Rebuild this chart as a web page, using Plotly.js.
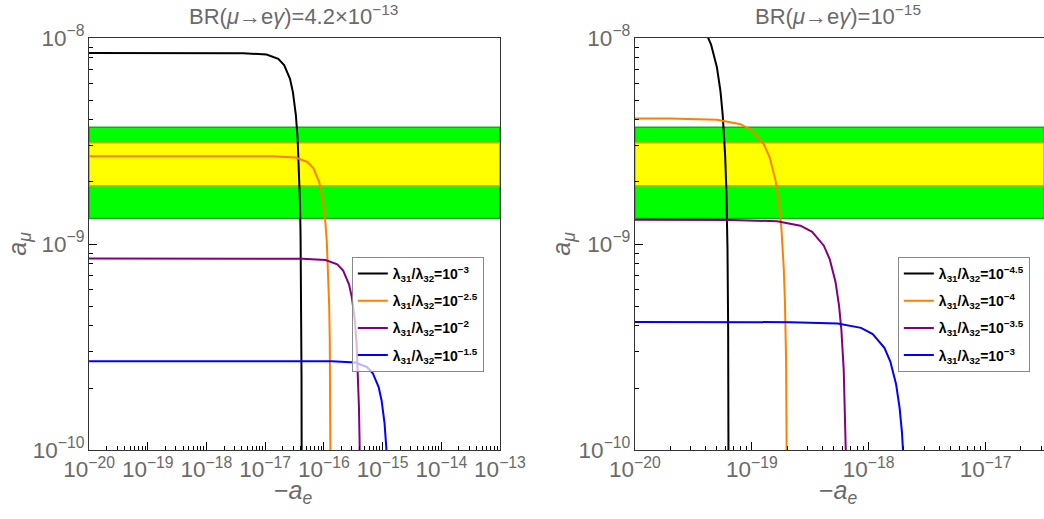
<!DOCTYPE html>
<html>
<head>
<meta charset="utf-8">
<script src="https://cdn.plot.ly/plotly-3.0.1.min.js"></script>
<style>html,body{margin:0;padding:0;background:#fff;}#plot{width:1044px;height:519px;}</style>
</head>
<body>
<div id="plot"></div>
<script>
// ---- Data ----
// g-2 bands (a_mu): 2-sigma (green) and 1-sigma (yellow)
const band2sigma = [1.33e-9, 3.69e-9];
const band1sigma = [1.92e-9, 3.10e-9];

// Left panel: BR(mu->e gamma) = 4.2e-13
const leftNames = ["λ<sub>31</sub>/λ<sub>32</sub>=10<sup>−3</sup>",
                   "λ<sub>31</sub>/λ<sub>32</sub>=10<sup>−2.5</sup>",
                   "λ<sub>31</sub>/λ<sub>32</sub>=10<sup>−2</sup>",
                   "λ<sub>31</sub>/λ<sub>32</sub>=10<sup>−1.5</sup>"];
const leftBlackX  = [1e-20, 4.2e-18, 1.055e-17, 1.672e-17, 2.105e-17, 2.65e-17, 2.973e-17, 3.336e-17, 3.575e-17, 3.743e-17, 3.92e-17, 4.011e-17, 4.104e-17, 4.161e-17, 4.2e-17];
const leftBlackY  = [8.45e-9, 8.44e-9, 8.31e-9, 7.92e-9, 7.39e-9, 6.33e-9, 5.45e-9, 4.22e-9, 3.24e-9, 2.47e-9, 1.58e-9, 1.09e-9, 5.66e-10, 2.31e-10, 5e-11];
const leftOrangeX = [1e-20, 1.32e-17, 3.316e-17, 5.255e-17, 6.616e-17, 8.329e-17, 9.344e-17, 1.0485e-16, 1.1235e-16, 1.1765e-16, 1.232e-16, 1.2606e-16, 1.2899e-16, 1.3079e-16, 1.32e-16];
const leftOrangeY = [2.67e-9, 2.667e-9, 2.627e-9, 2.502e-9, 2.334e-9, 2.0e-9, 1.722e-9, 1.332e-9, 1.023e-9, 7.8e-10, 4.99e-10, 3.44e-10, 1.79e-10, 7.29e-11, 3e-11];
const leftPurpleX = [1e-20, 4.25e-17, 1.0676e-16, 1.692e-16, 2.13e-16, 2.682e-16, 3.009e-16, 3.376e-16, 3.617e-16, 3.788e-16, 3.967e-16, 4.059e-16, 4.153e-16, 4.211e-16, 4.25e-16];
const leftPurpleY = [8.5e-10, 8.49e-10, 8.36e-10, 7.96e-10, 7.43e-10, 6.37e-10, 5.48e-10, 4.24e-10, 3.26e-10, 2.48e-10, 1.59e-10, 1.10e-10, 5.7e-11, 2.3e-11, 1e-11];
const leftBlueX   = [1e-20, 1.36e-16, 3.416e-16, 5.414e-16, 6.816e-16, 8.582e-16, 9.627e-16, 1.0802e-15, 1.1575e-15, 1.2122e-15, 1.2693e-15];
const leftBlueY   = [2.7e-10, 2.697e-10, 2.657e-10, 2.53e-10, 2.36e-10, 2.02e-10, 1.74e-10, 1.35e-10, 1.03e-10, 7.9e-11, 5.0e-11];

// Right panel: BR(mu->e gamma) = 1e-15
const rightNames = ["λ<sub>31</sub>/λ<sub>32</sub>=10<sup>−4.5</sup>",
                    "λ<sub>31</sub>/λ<sub>32</sub>=10<sup>−4</sup>",
                    "λ<sub>31</sub>/λ<sub>32</sub>=10<sup>−3.5</sup>",
                    "λ<sub>31</sub>/λ<sub>32</sub>=10<sup>−3</sup>"];
const rightBlackX  = [1e-20, 1.59e-20, 2.52e-20, 3.17e-20, 3.99e-20, 4.48e-20, 5.03e-20, 5.39e-20, 5.64e-20, 5.91e-20, 6.05e-20, 6.19e-20, 6.27e-20, 6.33e-20];
const rightBlackY  = [1.44e-8, 1.42e-8, 1.35e-8, 1.26e-8, 1.08e-8, 9.29e-9, 7.19e-9, 5.52e-9, 4.2e-9, 2.69e-9, 1.86e-9, 9.6e-10, 3.9e-10, 5e-11];
const rightOrangeX = [1e-20, 2.01e-20, 5.05e-20, 8.0e-20, 1.0074e-19, 1.2683e-19, 1.4229e-19, 1.5965e-19, 1.7107e-19, 1.7915e-19, 1.876e-19, 1.9196e-19, 1.9642e-19, 1.9915e-19, 2.01e-19];
const rightOrangeY = [4.07e-9, 4.066e-9, 4.005e-9, 3.814e-9, 3.557e-9, 3.048e-9, 2.625e-9, 2.031e-9, 1.559e-9, 1.188e-9, 7.61e-10, 5.25e-10, 2.73e-10, 1.11e-10, 3e-11];
const rightPurpleX = [1e-20, 6.55e-20, 1.6454e-19, 2.6076e-19, 3.2829e-19, 4.1331e-19, 4.6367e-19, 5.2027e-19, 5.5747e-19, 5.838e-19, 6.1131e-19, 6.2553e-19, 6.4007e-19, 6.4897e-19, 6.55e-19];
const rightPurpleY = [1.31e-9, 1.309e-9, 1.289e-9, 1.227e-9, 1.145e-9, 9.81e-10, 8.45e-10, 6.54e-10, 5.02e-10, 3.83e-10, 2.45e-10, 1.69e-10, 8.8e-11, 3.6e-11, 1e-11];
const rightBlueX   = [1e-20, 2.16e-19, 5.426e-19, 8.599e-19, 1.0826e-18, 1.363e-18, 1.5291e-18, 1.7157e-18, 1.8384e-18, 1.9252e-18, 2.0159e-18, 2.0628e-18, 2.1108e-18];
const rightBlueY   = [4.18e-10, 4.176e-10, 4.113e-10, 3.917e-10, 3.653e-10, 3.131e-10, 2.696e-10, 2.086e-10, 1.601e-10, 1.221e-10, 7.82e-11, 5.39e-11, 2.8e-11];

const titles = ["BR(<i>μ</i>→e<i>γ</i>)=4.2×10<sup>−13</sup>", "BR(<i>μ</i>→e<i>γ</i>)=10<sup>−15</sup>"];

// ---- Styling ----
const colors = ["#000000", "#FF8000", "#800080", "#0000FF"];
const FONT = "Liberation Sans, Arial, sans-serif";

function curve(x, y, name, color, xa, ya, leg, grp) {
  return {x: x, y: y, name: "<b>" + name + "</b>", type: "scatter", mode: "lines",
          line: {color: color, width: 2}, xaxis: xa, yaxis: ya, legend: leg, legendgroup: grp, hoverinfo: "skip"};
}

const traces = [
  curve(leftBlackX, leftBlackY, leftNames[0], colors[0], "x", "y", "legend", "l0"),
  curve(leftOrangeX, leftOrangeY, leftNames[1], colors[1], "x", "y", "legend", "l1"),
  curve(leftPurpleX, leftPurpleY, leftNames[2], colors[2], "x", "y", "legend", "l2"),
  curve(leftBlueX, leftBlueY, leftNames[3], colors[3], "x", "y", "legend", "l3"),
  curve(rightBlackX, rightBlackY, rightNames[0], colors[0], "x2", "y2", "legend2", "r0"),
  curve(rightOrangeX, rightOrangeY, rightNames[1], colors[1], "x2", "y2", "legend2", "r1"),
  curve(rightPurpleX, rightPurpleY, rightNames[2], colors[2], "x2", "y2", "legend2", "r2"),
  curve(rightBlueX, rightBlueY, rightNames[3], colors[3], "x2", "y2", "legend2", "r3")
];

function axisBase(extra) {
  return Object.assign({
    type: "log", dtick: 1, exponentformat: "power",
    ticks: "inside", ticklen: 8, tickwidth: 1, tickcolor: "#000",
    minor: {dtick: "D1", ticks: "inside", ticklen: 4, tickwidth: 1, tickcolor: "#000", showgrid: false},
    showline: true, linecolor: "#333", linewidth: 1, mirror: true,
    showgrid: false, zeroline: false,
    tickfont: {family: FONT, size: 18, color: "#6a6a6a"}
  }, extra);
}

const yDom = [0.1329, 0.9268];

function bandShapes(xref, yref) {
  return [
    {type: "rect", xref: xref + " domain", yref: yref, x0: 0, x1: 1, y0: band2sigma[0], y1: band2sigma[1],
     fillcolor: "#00FF00", line: {color: "#2E9B2E", width: 1.5}, layer: "below"},
    {type: "rect", xref: xref + " domain", yref: yref, x0: 0, x1: 1, y0: band1sigma[0], y1: band1sigma[1],
     fillcolor: "#FFFF00", line: {color: "#C4B000", width: 1.5}, layer: "below"}
  ];
}

const legendStyle = {
  xanchor: "left", yanchor: "top",
  bgcolor: "rgba(255,255,255,0.72)", bordercolor: "#8a8a8a", borderwidth: 1,
  font: {family: FONT, size: 14, color: "#000"}, itemwidth: 30, tracegroupgap: 6
};

const layout = {
  width: 1044, height: 519,
  margin: {l: 0, r: 0, t: 0, b: 0},
  paper_bgcolor: "#fff", plot_bgcolor: "#fff",
  font: {family: FONT},
  showlegend: true,
  xaxis: axisBase({range: [-20, -13], domain: [0.0853, 0.4789], anchor: "y"}),
  yaxis: axisBase({range: [-10, -8], domain: yDom, anchor: "x"}),
  xaxis2: axisBase({range: [-20, -16.5], domain: [0.6082, 1.0], anchor: "y2"}),
  yaxis2: axisBase({range: [-10, -8], domain: yDom, anchor: "x2"}),
  legend: Object.assign({x: 0.337, y: 0.505}, legendStyle),
  legend2: Object.assign({x: 0.860, y: 0.505}, legendStyle),
  shapes: bandShapes("x", "y").concat(bandShapes("x2", "y2")),
  annotations: [
    {text: titles[0], xref: "paper", yref: "paper", x: 0.2816, y: 0.972, xanchor: "center", yanchor: "middle",
     showarrow: false, font: {family: FONT, size: 22, color: "#6a6a6a"}},
    {text: titles[1], xref: "paper", yref: "paper", x: 0.803, y: 0.972, xanchor: "center", yanchor: "middle",
     showarrow: false, font: {family: FONT, size: 22, color: "#6a6a6a"}},
    {text: "−<i>a</i><sub><i>e</i></sub>", xref: "paper", yref: "paper", x: 0.2807, y: 0.052, xanchor: "center", yanchor: "middle",
     showarrow: false, font: {family: FONT, size: 25, color: "#6a6a6a"}},
    {text: "−<i>a</i><sub><i>e</i></sub>", xref: "paper", yref: "paper", x: 0.803, y: 0.052, xanchor: "center", yanchor: "middle",
     showarrow: false, font: {family: FONT, size: 25, color: "#6a6a6a"}},
    {text: "<i>a</i><sub><i>μ</i></sub>", xref: "paper", yref: "paper", x: 0.018, y: 0.53, xanchor: "center", yanchor: "middle",
     textangle: -90, showarrow: false, font: {family: FONT, size: 25, color: "#6a6a6a"}},
    {text: "<i>a</i><sub><i>μ</i></sub>", xref: "paper", yref: "paper", x: 0.539, y: 0.53, xanchor: "center", yanchor: "middle",
     textangle: -90, showarrow: false, font: {family: FONT, size: 25, color: "#6a6a6a"}}
  ]
};

Plotly.newPlot("plot", traces, layout, {staticPlot: true, displayModeBar: false});
</script>
</body>
</html>
